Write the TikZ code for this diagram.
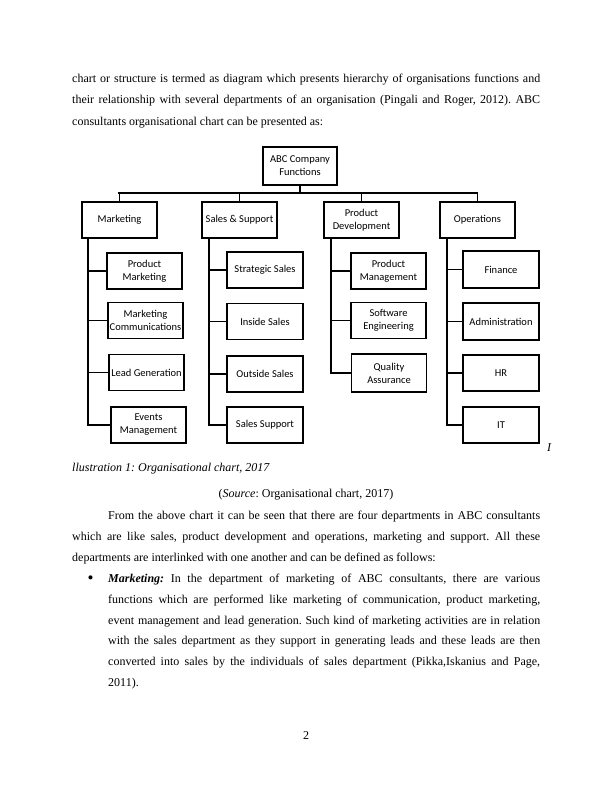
\documentclass[tikz,border=0pt]{standalone}
\usepackage{fontspec}
\setmainfont{Liberation Serif}
\newfontfamily\carlito{Carlito}
\begin{document}
\frenchspacing
\begin{tikzpicture}[x=1pt,y=-1pt,
  box/.style={draw=black,line width=1.6pt,minimum width=75pt,minimum height=36pt,inner sep=0pt,align=center,font=\carlito\fontsize{10.5}{13}\selectfont},
  conn/.style={line width=1.6pt,line cap=rect},
  body/.style={anchor=base west,inner sep=0pt,font=\fontsize{12}{14}\selectfont\frenchspacing},
  bodyc/.style={anchor=base,inner sep=0pt,font=\fontsize{12}{14}\selectfont\frenchspacing}]
\useasboundingbox (0,0) rectangle (612,792);
% body text above
\node[body] (t1) at (72,82) {\makebox[468pt][s]{chart or structure is termed as diagram which presents hierarchy of organisations functions and}};
\node[body] (t2) at (72,103.5) {\makebox[468pt][s]{their relationship with several departments of an organisation (Pingali and Roger, 2012). ABC}};
\node[body] (t3) at (72,125) {consultants organisational chart can be presented as:};
% chart
\node[box,minimum width=74pt,minimum height=38pt] (abc) at (300,166) {ABC Company\\Functions};
\node[box] (mkt) at (119.5,220) {Marketing};
\node[box] (sal) at (239.5,220) {Sales \& Support};
\node[box] (pd) at (361.5,220) {Product\\Development};
\node[box] (ops) at (477.5,220) {Operations};
\node[box] (pm) at (144.5,271) {Product\\Marketing};
\node[box] (mc) at (145.5,320.5) {Marketing\\Communications};
\node[box] (lg) at (146.5,372.5) {Lead Generation};
\node[box] (em) at (148.5,425) {Events\\Management};
\node[box,minimum width=76pt] (ss) at (265,270) {Strategic Sales};
\node[box,minimum width=76pt] (is) at (265,321.5) {Inside Sales};
\node[box,minimum width=76pt] (os) at (265,374) {Outside Sales};
\node[box,minimum width=76pt] (sp) at (265,425) {Sales Support};
\node[box] (pmg) at (388.5,271) {Product\\Management};
\node[box] (se) at (388.5,320.5) {Software\\Engineering};
\node[box,minimum height=38pt] (qa) at (389,373) {Quality\\Assurance};
\node[box,minimum width=76pt,minimum height=37pt] (fin) at (501,269.5) {Finance};
\node[box,minimum width=76pt,minimum height=37pt] (adm) at (501,321.5) {Administration};
\node[box,minimum width=76pt] (hr) at (501,373) {HR};
\node[box,minimum width=76pt] (it) at (501,425) {IT};
\coordinate (busL) at (119,193);
\coordinate (busR) at (477,193);
\draw[conn] (abc.south) -- (abc.south |- busL);
\draw[conn] (busL) -- (busR);
\draw[conn] (mkt.north) -- (mkt.north |- busL);
\draw[conn] (sal.north) -- (sal.north |- busL);
\draw[conn] (pd.north) -- (pd.north |- busL);
\draw[conn] (ops.north) -- (ops.north |- busL);
% spines
\coordinate (s1) at ([xshift=7pt]mkt.south west);
\coordinate (s2) at ([xshift=8pt]sal.south west);
\coordinate (s3) at ([xshift=8pt]pd.south west);
\coordinate (s4) at ([xshift=8pt]ops.south west);
\draw[conn] (s1) |- (em.west);
\draw[conn] (pm.west) -- (pm.west -| s1);
\draw[conn] (mc.west) -- (mc.west -| s1);
\draw[conn] (lg.west) -- (lg.west -| s1);
\draw[conn] (s2) |- (sp.west);
\draw[conn] (ss.west) -- (ss.west -| s2);
\draw[conn] (is.west) -- (is.west -| s2);
\draw[conn] (os.west) -- (os.west -| s2);
\draw[conn] (s3) |- (qa.west);
\draw[conn] (pmg.west) -- (pmg.west -| s3);
\draw[conn] (se.west) -- (se.west -| s3);
\draw[conn] (s4) |- (it.west);
\draw[conn] (fin.west) -- (fin.west -| s4);
\draw[conn] (adm.west) -- (adm.west -| s4);
\draw[conn] (hr.west) -- (hr.west -| s4);
% caption
\node[body,font=\fontsize{12}{14}\selectfont\itshape] (iI) at (547,451) {I};
\node[body,font=\fontsize{12}{14}\selectfont\itshape] (cap) at (72,471) {llustration 1: Organisational chart, 2017};
\node[bodyc] (src) at (306,497.5) {(\textit{Source}: Organisational chart, 2017)};
\node[body] (p1) at (108,519) {\makebox[432pt][s]{From the above chart it can be seen that there are four departments in ABC consultants}};
\node[body] (p2) at (72,540.5) {\makebox[468pt][s]{which are like sales, product development and operations, marketing and support. All these}};
\node[body] (p3) at (72,561.5) {departments are interlinked with one another and can be defined as follows:};
\node[body,font=\fontsize{17}{17}\selectfont] (bul) at (87.5,583.5) {•};
\node[body] (b1) at (108,582) {\makebox[432pt][s]{\textbf{\textit{Marketing:}} In the department of marketing of ABC consultants, there are various}};
\node[body] (b2) at (108,603) {\makebox[432pt][s]{functions which are performed like marketing of communication, product marketing,}};
\node[body] (b3) at (108,624) {\makebox[432pt][s]{event management and lead generation. Such kind of marketing activities are in relation}};
\node[body] (b4) at (108,644.5) {\makebox[432pt][s]{with the sales department as they support in generating leads and these leads are then}};
\node[body] (b5) at (108,665) {\makebox[432pt][s]{converted into sales by the individuals of sales department (Pikka,Iskanius and Page,}};
\node[body] (b6) at (108,686) {2011).};
\node[bodyc] (pg) at (306,739) {2};
\end{tikzpicture}
\end{document}
